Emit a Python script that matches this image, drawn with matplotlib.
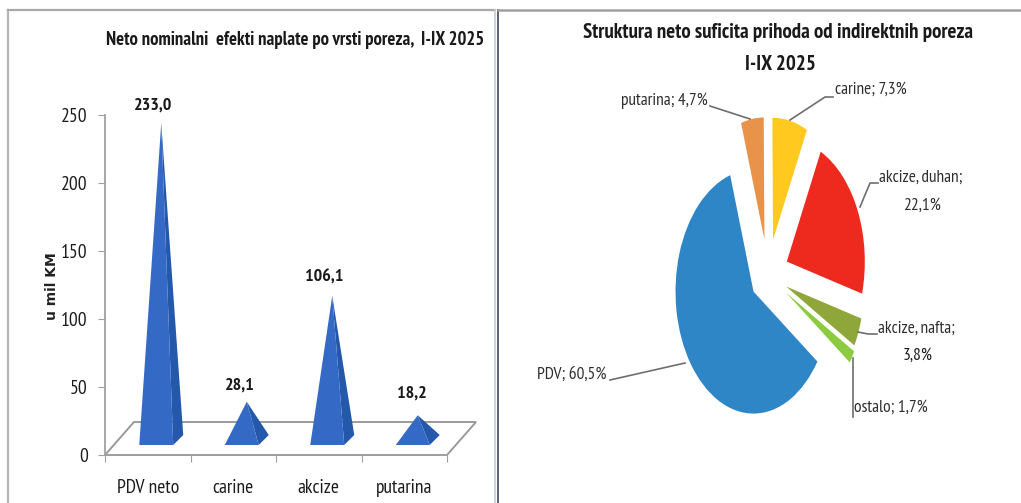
import matplotlib
matplotlib.use("Agg")
import matplotlib.pyplot as plt
from matplotlib.lines import Line2D
from matplotlib.patches import Polygon
from matplotlib import font_manager as fm

W, H = 1021, 503
names = {f.name for f in fm.fontManager.ttflist}
NARROW = next((n for n in ['PT Sans Narrow', 'Fira Sans Condensed', 'Archivo Narrow', 'Liberation Sans Narrow',
                           'Liberation Sans'] if n in names), 'DejaVu Sans')
plt.rcParams['font.family'] = [NARROW, 'DejaVu Sans']

# --- data
bar_categories = ['PDV neto', 'carine', 'akcize', 'putarina']
bar_values = [233.0, 28.1, 106.1, 18.2]
bar_labels = ['233,0', '28,1', '106,1', '18,2']
y_ticks = [0, 50, 100, 150, 200, 250]

pie_names = ['carine', 'akcize, duhan', 'akcize, nafta', 'ostalo', 'PDV', 'putarina']
pie_values = [7.3, 22.1, 3.8, 1.7, 60.5, 4.7]
pie_colors = ['#FFC91F', '#EE2A1E', '#8FA73A', '#8CCB3F', '#2F86C6', '#E9924A']
pie_explode = [0.295, 0.265, 0.25, 0.27, 0.23, 0.295]

fig = plt.figure(figsize=(W / 100, H / 100), dpi=100, facecolor='white')


def fx(x):
    return x / W


def fy(y):
    return 1 - y / H


def ptext(x, y, s, **kw):
    kw.setdefault('va', 'center')
    kw.setdefault('color', '#2e2e2e')
    fig.text(fx(x), fy(y), s, **kw)


def pline(xs, ys, color='#6e6e6e', lw=1.2):
    fig.add_artist(Line2D([fx(x) for x in xs], [fy(y) for y in ys], color=color, lw=lw))


# --- panel frames
pline([8, 8], [10, 503], '#b5b5b5', 1.6)
pline([8, 495], [10, 10], '#a8a8a8', 1.6)
pline([495, 495], [10, 503], '#c8ccd8', 1.2)
pline([498, 498], [10, 503], '#5a6078', 1.4)
pline([498, 1021], [10, 10], '#a0a0a0', 1.8)

# --- left chart
L, R, T, B = 105, 447, 115, 455
ax = fig.add_axes([fx(L), fy(B), (R - L) / W, (B - T) / H])
ax.set_xlim(0, 4)
ax.set_ylim(0, 250)
ax.patch.set_alpha(0)
for s in ('top', 'right'):
    ax.spines[s].set_visible(False)
for s in ('left', 'bottom'):
    ax.spines[s].set_color('#a0a0a0')
    ax.spines[s].set_linewidth(1.3)
ax.set_yticks(y_ticks)
ax.set_yticklabels([str(t) for t in y_ticks], fontsize=14, color='#1c1c1c')
ax.set_xticks([0, 1, 2, 3, 4])
ax.set_xticklabels([])
ax.set_xticks([i + 0.5 for i in range(4)], minor=True)
ax.set_xticklabels(bar_categories, minor=True, fontsize=14, color='#1c1c1c')
ax.tick_params(axis='y', length=5, color='#a0a0a0', pad=7.5)
ax.tick_params(axis='x', which='major', length=5, color='#a0a0a0')
ax.tick_params(axis='x', which='minor', length=0, pad=17)

px_x = (R - L) / 4
px_y = (B - T) / 250
floor_dx, floor_dy = 29 / px_x, 33 / px_y
ax.add_patch(Polygon([(0, 0), (floor_dx, floor_dy), (4 + floor_dx, floor_dy), (4, 0)],
                     closed=True, fill=False, ec='#9a9a9a', lw=1.4, clip_on=False, zorder=1))

half, shift = 17 / px_x, 8.5 / px_x
base = 10 / px_y
dep_x, dep_y = 10 / px_x, 10 / px_y
label_px = [(153, 106), (240, 386), (324, 278), (412, 394)]
for i, (v, lab) in enumerate(zip(bar_values, bar_labels)):
    c = i + 0.5 + shift
    x0, x1 = c - half, c + half
    apex = (c + dep_x / 2, base + v + dep_y / 2)
    ax.add_patch(Polygon([(x1, base), (x1 + dep_x, base + dep_y), apex], closed=True,
                         fc='#2458AA', ec='none', clip_on=False, zorder=3))
    ax.add_patch(Polygon([(x0, base), (x1, base), apex], closed=True,
                         fc='#3569C6', ec='none', clip_on=False, zorder=4))
    ptext(*label_px[i], lab, ha='center', fontsize=13, fontweight='bold', color='#1a1a1a')

ptext(295, 40, 'Neto nominalni  efekti naplate po vrsti poreza,  I-IX 2025', ha='center',
      fontsize=13.4, fontweight='bold', color='#1a1a1a')
ptext(52, 286, 'u mil KM', ha='center', rotation=90, fontsize=10, fontweight='bold',
      family='DejaVu Sans', color='#222222')

# --- right chart
cx, cy, a, b = 768, 275, 78, 122
span = 1.5
axp = fig.add_axes([fx(cx - span * a), fy(cy + span * b), 2 * span * a / W, 2 * span * b / H])
axp.pie(pie_values, colors=pie_colors, explode=pie_explode, startangle=90.5, counterclock=False,
        wedgeprops={'linewidth': 0})
axp.set_aspect('auto')
axp.set_xlim(-span, span)
axp.set_ylim(-span, span)
axp.patch.set_alpha(0)

ptext(778, 32, 'Struktura neto suficita prihoda od indirektnih poreza', ha='center',
      fontsize=15, fontweight='bold', color='#1a1a1a')
ptext(780, 64, 'I-IX 2025', ha='center', fontsize=15, fontweight='bold', color='#1a1a1a')

ptext(708, 101, 'putarina; 4,7%', ha='right', fontsize=12.5)
ptext(835, 90, 'carine; 7,3%', ha='left', fontsize=12.5)
ptext(879, 178, 'akcize, duhan;', ha='left', fontsize=12.5)
ptext(922, 206, '22,1%', ha='center', fontsize=12.5)
ptext(878, 329, 'akcize, nafta;', ha='left', fontsize=12.5)
ptext(918, 356, '3,8%', ha='center', fontsize=12.5, color='#1a1a1a')
ptext(854, 408, 'ostalo; 1,7%', ha='left', fontsize=12.5)
ptext(537, 375, 'PDV; 60,5%', ha='left', fontsize=12.5)

pline([710, 750], [106, 119])
pline([833, 825, 790], [97, 97, 120])
pline([878, 870, 860], [183, 183, 207])
pline([877, 868, 858], [334, 334, 332])
pline([853, 853], [417, 358])
pline([610, 685], [380, 363])

fig.savefig('out.png', dpi=100, facecolor='white')
